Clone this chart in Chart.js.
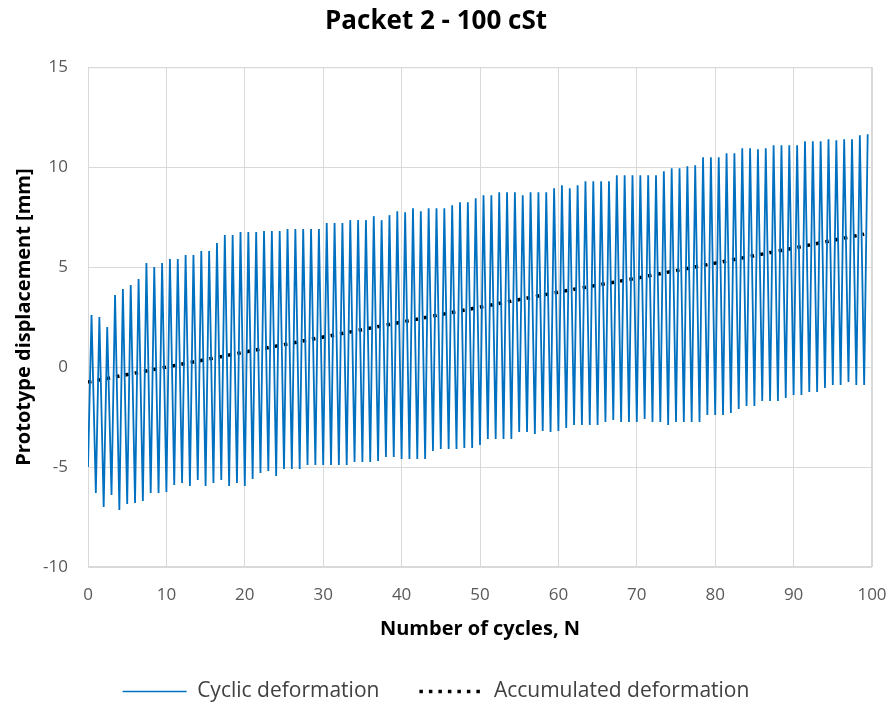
<!DOCTYPE html>
<html>
<head>
<meta charset="utf-8">
<script src="https://cdn.jsdelivr.net/npm/chart.js@4.4.1/dist/chart.umd.min.js"></script>
<style>
  html, body { margin: 0; padding: 0; background: #fff; }
  #wrap { width: 891px; height: 709px; }
</style>
</head>
<body>
<div id="wrap"><canvas id="myChart"></canvas></div>
<script>
// peak / trough of each load cycle (mm)
const peaks = [
  2.6, 2.5, 2.0, 3.6, 3.9, 4.1, 4.4, 5.2, 5.0, 5.2,
  5.4, 5.4, 5.6, 5.6, 5.8, 5.8, 6.2, 6.6, 6.6, 6.75,
  6.75, 6.75, 6.8, 6.8, 6.8, 6.9, 6.9, 6.9, 6.9, 6.9,
  7.2, 7.2, 7.2, 7.35, 7.35, 7.35, 7.55, 7.35, 7.6, 7.8,
  7.75, 7.95, 7.8, 7.95, 7.95, 7.95, 8.1, 8.25, 8.25, 8.45,
  8.6, 8.6, 8.75, 8.75, 8.75, 8.6, 8.75, 8.75, 8.75, 8.95,
  9.1, 8.95, 9.1, 9.3, 9.3, 9.3, 9.3, 9.6, 9.6, 9.6,
  9.6, 9.6, 9.6, 9.8, 9.95, 9.95, 10.05, 10.1, 10.5, 10.5,
  10.5, 10.7, 10.7, 10.95, 10.95, 10.9, 10.95, 11.1, 11.1, 11.1,
  11.1, 11.3, 11.3, 11.3, 11.4, 11.35, 11.4, 11.4, 11.6, 11.65
];
const troughs = [
  -5.0, -6.3, -7.0, -6.4, -7.15, -6.85, -6.8, -6.7, -6.3, -6.3,
  -6.25, -5.9, -5.8, -5.95, -5.65, -5.95, -5.8, -5.65, -5.95, -5.8,
  -5.95, -5.6, -5.3, -5.2, -5.45, -5.1, -5.1, -5.1, -4.9, -4.9,
  -4.9, -4.9, -4.9, -4.9, -4.75, -4.75, -4.75, -4.7, -4.5, -4.5,
  -4.6, -4.6, -4.6, -4.6, -4.2, -4.1, -4.1, -4.1, -4.05, -4.05,
  -3.9, -3.6, -3.6, -3.6, -3.6, -3.25, -3.25, -3.35, -3.2, -3.25,
  -3.2, -3.05, -2.9, -2.9, -2.9, -2.9, -2.75, -2.65, -2.75, -2.75,
  -2.75, -2.6, -2.75, -2.75, -2.9, -2.75, -2.75, -2.75, -2.75, -2.4,
  -2.4, -2.4, -2.3, -2.1, -1.95, -1.95, -1.7, -1.7, -1.7, -1.55,
  -1.4, -1.4, -1.25, -1.25, -1.05, -0.9, -0.9, -0.75, -0.9, -0.9
];
// accumulated deformation, read every 10 cycles
const accCycles = [0, 10, 20, 30, 40, 50, 60, 70, 80, 90, 99];
const accValues = [-0.75, 0.0, 0.75, 1.5, 2.25, 3.0, 3.75, 4.45, 5.2, 5.95, 6.65];

const xTicks = [0, 10, 20, 30, 40, 50, 60, 70, 80, 90, 100];
const yTicks = [-10, -5, 0, 5, 10, 15];

// trough at start of cycle, peak half way through
let cyclic = [];
peaks.forEach((p, i) => {
  cyclic.push({x: i, y: troughs[i]});
  cyclic.push({x: i + 0.45, y: p});
});
let accumulated = accCycles.map((c, i) => ({x: c, y: accValues[i]}));

const frame = {
  id: 'frame',
  beforeLayout(chart) {
    // fixed legend strip height, so items can sit apart like the original
    const lg = chart.legend;
    if (lg && !lg._fixed) {
      const fit = lg.fit;
      lg.fit = function () { fit.call(this); this.height = 68; };
      lg._fixed = true;
    }
  },
  beforeDatasetsDraw(chart) {
    const a = chart.chartArea, ctx = chart.ctx;
    ctx.save();
    ctx.strokeStyle = '#d9d9d9';
    ctx.lineWidth = 1;
    ctx.strokeRect(a.left + 0.5, a.top + 0.5, a.right - a.left - 1, a.bottom - a.top - 1);
    ctx.restore();
  }
};

const ctx = document.getElementById('myChart');
new Chart(ctx, {
  type: 'line',
  data: {
    datasets: [
      {
        label: 'Cyclic deformation',
        data: cyclic,
        borderColor: '#0070C0',
        borderWidth: 1.8,
        pointRadius: 0,
        fill: false,
        tension: 0
      },
      {
        label: 'Accumulated deformation',
        data: accumulated,
        borderColor: '#000000',
        borderWidth: 3.5,
        borderDash: [3.5, 6],
        pointRadius: 0,
        fill: false,
        tension: 0
      }
    ]
  },
  options: {
    responsive: true,
    maintainAspectRatio: false,
    animation: false,
    layout: { padding: { left: 0, right: 19, top: 0, bottom: 0 } },
    plugins: {
      title: {
        display: true,
        text: 'Packet 2 - 100 cSt',
        color: '#000',
        font: { family: 'Open Sans', size: 26, weight: 'bold' },
        padding: { top: 6, bottom: 30 }
      },
      legend: {
        position: 'bottom',
        labels: {
          color: '#404040',
          font: { family: 'Open Sans', size: 21 },
          usePointStyle: true,
          pointStyle: 'line',
          pointStyleWidth: 64,
          boxHeight: 3,
          padding: 40,
          generateLabels(chart) {
            const items = Chart.defaults.plugins.legend.labels.generateLabels(chart);
            items.forEach((it, i) => {
              const ds = chart.data.datasets[i];
              it.lineDash = ds.borderDash || [];
              it.strokeStyle = ds.borderColor;
              it.lineWidth = i === 0 ? 1.5 : 3.5;
            });
            return items;
          }
        }
      },
      tooltip: { enabled: false }
    },
    scales: {
      x: {
        type: 'linear',
        min: 0, max: 100,
        afterBuildTicks: s => { s.ticks = xTicks.map(v => ({value: v})); },
        afterFit: s => { s.height = 74; s.paddingLeft = 0; s.paddingRight = 0; },
        grid: { color: '#d9d9d9', drawTicks: false },
        border: { display: false },
        ticks: { color: '#595959', font: { family: 'Open Sans', size: 17 }, padding: 18 },
        title: {
          display: true,
          text: 'Number of cycles, N',
          color: '#000',
          font: { family: 'Open Sans', size: 20, weight: 'bold' },
          padding: { top: 4, bottom: 0 }
        }
      },
      y: {
        min: -10, max: 15,
        afterBuildTicks: s => { s.ticks = yTicks.map(v => ({value: v})); },
        afterFit: s => { s.width = 88; s.paddingTop = 0; s.paddingBottom = 0; },
        grid: { color: '#d9d9d9', drawTicks: false },
        border: { display: false },
        ticks: { color: '#595959', font: { family: 'Open Sans', size: 17 }, padding: 20 },
        title: {
          display: true,
          text: 'Prototype displacement [mm]',
          color: '#000',
          font: { family: 'Open Sans', size: 20, weight: 'bold' },
          padding: { top: 12, bottom: 4 }
        }
      }
    }
  },
  plugins: [frame]
});
</script>
</body>
</html>
